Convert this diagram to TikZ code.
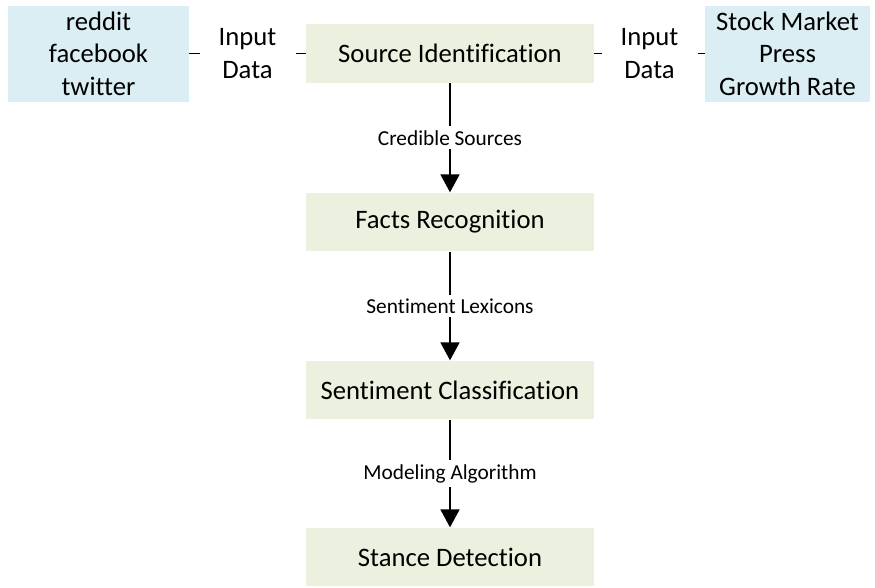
\documentclass[tikz,border=0pt]{standalone}
\usepackage{fontspec}
\setmainfont{Carlito}[Ligatures=NoCommon]
\usetikzlibrary{arrows.meta}
\definecolor{boxblue}{HTML}{DAEEF3}
\definecolor{boxgreen}{HTML}{EBF1DE}
\tikzset{
  srcbox/.style={fill=boxblue, inner sep=0pt, minimum height=72pt, align=center, font=\fontsize{20}{24.4}\selectfont},
  stagebox/.style={fill=boxgreen, inner sep=0pt, minimum width=216pt, minimum height=44pt, font=\fontsize{20}{24.4}\selectfont},
  inlbl/.style={fill=white, inner sep=0pt, minimum width=72pt, minimum height=50pt, align=center, font=\fontsize{20}{24.4}\selectfont},
  flowlbl/.style={fill=white, inner xsep=3pt, inner ysep=3pt, font=\fontsize{16}{19}\selectfont},
  flowarr/.style={line width=2pt, -{Triangle[width=14pt,length=13.5pt]}},
}

\begin{document}
\begin{tikzpicture}[x=0.75pt, y=-0.75pt]
		%%%%% START %%%%%
		\useasboundingbox (0,0) rectangle (875,587);
		
		\node[srcbox, minimum width=135.75pt] (social) at (98.5,53.5) {reddit\\facebook\\twitter};
		\node[srcbox, minimum width=123.75pt] (market) at (787.5,53.5) {Stock Market\\Press\\Growth Rate};
		
		\node[stagebox] (ident) at (450,53.5) {Source Identification};
		\node[stagebox] (facts) at (450,222) {Facts Recognition};
		\node[stagebox] (senti) at (450,390) {Sentiment Classification};
		\node[stagebox] (stance) at (450,557) {Stance Detection};
		
		\draw[line width=1.2pt] (social) -- (ident) node[inlbl, midway] {Input\\Data};
		\draw[line width=1.2pt] (ident) -- (market) node[inlbl, midway] {Input\\Data};
		
		\draw[flowarr] (ident) -- (facts) node[flowlbl, midway] {Credible Sources};
		\draw[flowarr] (facts) -- (senti) node[flowlbl, midway] {Sentiment Lexicons};
		\draw[flowarr] (senti) -- (stance) node[flowlbl, midway] {Modeling Algorithm};
		
		%%%%% END %%%%%
	\end{tikzpicture}
\end{document}
